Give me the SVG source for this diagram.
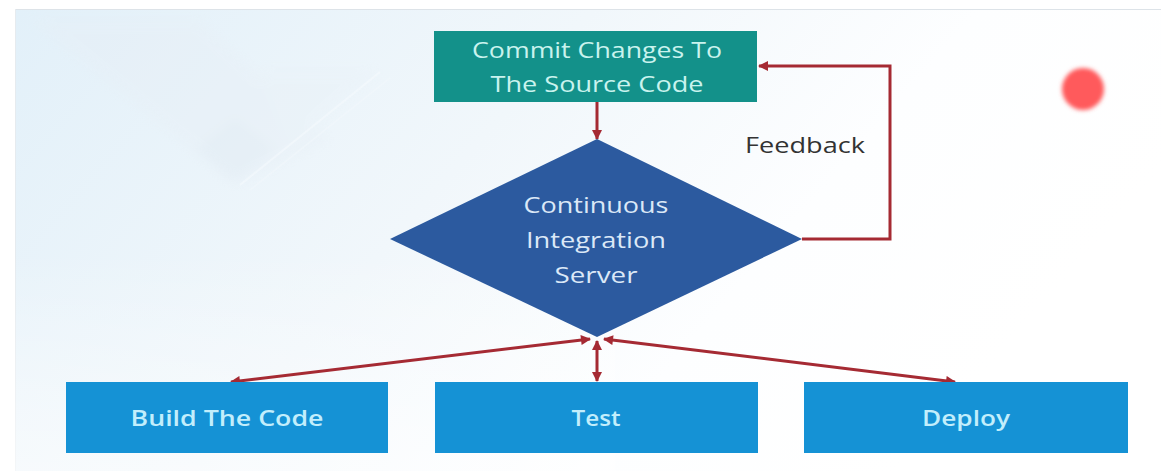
<svg xmlns="http://www.w3.org/2000/svg" width="1161" height="471" viewBox="0 0 1161 471">
  <defs>
    <linearGradient id="bgGrad" x1="0" y1="0" x2="1" y2="0.35">
      <stop offset="0" stop-color="#e2f0f9"/>
      <stop offset="0.45" stop-color="#f1f7fb"/>
      <stop offset="0.75" stop-color="#fdfeff"/>
      <stop offset="1" stop-color="#ffffff"/>
    </linearGradient>
    <linearGradient id="fadeDown" x1="0" y1="0" x2="0" y2="1">
      <stop offset="0" stop-color="#ffffff" stop-opacity="0"/>
      <stop offset="1" stop-color="#ffffff" stop-opacity="0.55"/>
    </linearGradient>
    <filter id="soft" x="-50%" y="-50%" width="200%" height="200%">
      <feGaussianBlur stdDeviation="2.2"/>
    </filter>
    <filter id="haze" x="-20%" y="-20%" width="140%" height="140%">
      <feGaussianBlur stdDeviation="6"/>
    </filter>
    <marker id="head" viewBox="0 0 10 10" refX="9" refY="5" markerWidth="11" markerHeight="10" markerUnits="userSpaceOnUse" orient="auto-start-reverse">
      <path d="M0,0 L10,5 L0,10 Z" fill="#a52a33"/>
    </marker>
    <style>
      .conn { fill: none; stroke: #a52a33; stroke-width: 3; }
      .commit { fill: #13918a; }
      .server { fill: #2c5a9f; }
      .step { fill: #1592d5; }
      .txt { font-family: "Open Sans", "Liberation Sans", sans-serif; text-anchor: middle; }
      .light { fill: #c9f3ee; font-size: 21px; font-weight: 500; }
      .srv { fill: #dbe8f7; font-size: 21px; font-weight: 500; }
      .stepTxt { fill: #c2eefc; font-size: 22px; font-weight: 600; }
      .label { fill: #333333; font-size: 22px; }
    </style>
  </defs>

  <!-- page -->
  <rect x="0" y="0" width="1161" height="471" fill="#ffffff"/>
  <rect x="15" y="9" width="1146" height="462" fill="url(#bgGrad)"/>
  <line x1="15" y1="9.5" x2="1161" y2="9.5" stroke="#dde3e8" stroke-width="1"/>
  <line x1="15.5" y1="9" x2="15.5" y2="471" stroke="#e6ebef" stroke-width="1"/>

  <!-- faint backdrop shapes -->
  <g opacity="0.35" filter="url(#haze)">
    <polygon points="30,20 200,20 330,140 235,185" fill="#e7eef5"/>
    <polygon points="195,150 235,118 275,150 235,182" fill="#dde6ef"/>
    <polygon points="260,70 380,70 290,150" fill="#e9f1f7"/>
  </g>
  <g opacity="0.5">
    <line x1="240" y1="185" x2="380" y2="72" stroke="#f7fbfe" stroke-width="2"/>
    <line x1="250" y1="190" x2="390" y2="78" stroke="#f3f8fc" stroke-width="1.5"/>
  </g>
  <rect x="15" y="250" width="600" height="221" fill="url(#fadeDown)"/>

  <!-- red dot -->
  <circle cx="1083" cy="89" r="21" fill="#ff5a5c" filter="url(#soft)"/>

  <!-- connectors -->
  <g id="connectors">
    <line class="conn" x1="597" y1="102" x2="597" y2="139" marker-end="url(#head)"/>
    <path class="conn" d="M802,239 H890 V66 H759" marker-end="url(#head)"/>
    <line class="conn" x1="590" y1="339" x2="231" y2="382" marker-start="url(#head)" marker-end="url(#head)"/>
    <line class="conn" x1="597" y1="341" x2="597" y2="381" marker-start="url(#head)" marker-end="url(#head)"/>
    <line class="conn" x1="604" y1="339" x2="955" y2="382" marker-start="url(#head)" marker-end="url(#head)"/>
  </g>

  <!-- nodes -->
  <g id="commit">
    <rect class="commit" x="434" y="31" width="323" height="71"/>
    <text class="txt light" x="597" y="58" textLength="250" lengthAdjust="spacingAndGlyphs">Commit Changes To</text>
    <text class="txt light" x="597" y="92" textLength="213" lengthAdjust="spacingAndGlyphs">The Source Code</text>
  </g>

  <g id="ci-server">
    <polygon class="server" points="597,139 802,239 597,337 390,239"/>
    <text class="txt srv" x="596" y="213" textLength="145" lengthAdjust="spacingAndGlyphs">Continuous</text>
    <text class="txt srv" x="596" y="248" textLength="140" lengthAdjust="spacingAndGlyphs">Integration</text>
    <text class="txt srv" x="596" y="283" textLength="83" lengthAdjust="spacingAndGlyphs">Server</text>
  </g>

  <g id="feedback-label">
    <text class="txt label" x="805" y="153" textLength="120" lengthAdjust="spacingAndGlyphs">Feedback</text>
  </g>

  <g id="build">
    <rect class="step" x="66" y="382" width="322" height="71"/>
    <text class="txt stepTxt" x="227" y="426" textLength="193" lengthAdjust="spacingAndGlyphs">Build The Code</text>
  </g>

  <g id="test">
    <rect class="step" x="435" y="382" width="323" height="71"/>
    <text class="txt stepTxt" x="596" y="426" textLength="49" lengthAdjust="spacingAndGlyphs">Test</text>
  </g>

  <g id="deploy">
    <rect class="step" x="804" y="382" width="324" height="71"/>
    <text class="txt stepTxt" x="966" y="426" textLength="88" lengthAdjust="spacingAndGlyphs">Deploy</text>
  </g>
</svg>
